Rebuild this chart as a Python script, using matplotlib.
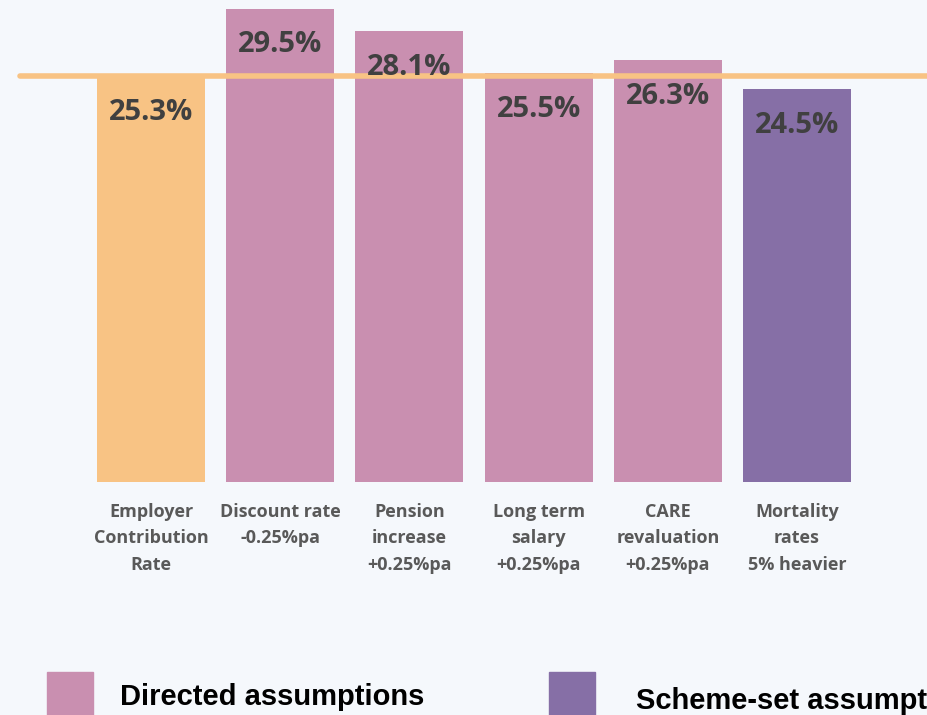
import matplotlib.pyplot as plt
from matplotlib.patches import Rectangle

# Chart data
categories = ["Employer\nContribution\nRate", "Discount rate\n-0.25%pa", "Pension\nincrease\n+0.25%pa",
              "Long term\nsalary\n+0.25%pa", "CARE\nrevaluation\n+0.25%pa", "Mortality\nrates\n5% heavier"]
values = [25.3, 29.5, 28.1, 25.5, 26.3, 24.5]
labels = ["25.3%", "29.5%", "28.1%", "25.5%", "26.3%", "24.5%"]
baseline = 25.3
legend_names = ["Directed assumptions", "Scheme-set assumptions"]

bg = "#F5F8FC"
orange = "#F8C384"
pink = "#C98FB0"
purple = "#866FA6"
colors = [orange, pink, pink, pink, pink, purple]

fig = plt.figure(figsize=(9.27, 7.15), dpi=100)
fig.patch.set_facecolor(bg)
ax = fig.add_axes([20 / 927, 1 - 482 / 715, 1 - 20 / 927, 482 / 715])
ax.set_facecolor(bg)

x = list(range(len(values)))
ax.bar(x, values, width=0.836, color=colors, zorder=2)
ax.plot([-1.014, 6.1], [baseline, baseline], color=orange, lw=4, solid_capstyle="round",
        zorder=3, clip_on=False)

for xi, v, lab in zip(x, values, labels):
    ax.text(xi, v - 2.25, lab, ha="center", va="center", fontsize=21, fontweight="bold",
            color="#404040", family=["Open Sans", "DejaVu Sans"], zorder=4)

ax.set_xlim(-1.014, 6.006)
ax.set_ylim(0, 30.05)
for s in ax.spines.values():
    s.set_visible(False)
ax.set_yticks([])
ax.set_xticks(x)
ax.set_xticklabels(categories, fontsize=13, fontweight="bold", color="#595959",
                   family=["Open Sans", "DejaVu Sans"], linespacing=1.6)
ax.tick_params(axis="x", length=0, pad=15)

# Legend
leg_font = ["Liberation Sans Narrow", "Liberation Sans", "DejaVu Sans"]
fig.patches.append(Rectangle((47 / 927, 0), 46 / 927, 43 / 715, transform=fig.transFigure,
                             color=pink, figure=fig))
fig.text(120 / 927, 1 - 697 / 715, legend_names[0], fontsize=21, fontweight="bold",
         va="center", ha="left", family=leg_font)
fig.patches.append(Rectangle((549 / 927, 0), 46 / 927, 43 / 715, transform=fig.transFigure,
                             color=purple, figure=fig))
fig.text(636 / 927, 1 - 701 / 715, legend_names[1], fontsize=21, fontweight="bold",
         va="center", ha="left", family=leg_font)

fig.savefig("out.png", dpi=100, facecolor=bg)
